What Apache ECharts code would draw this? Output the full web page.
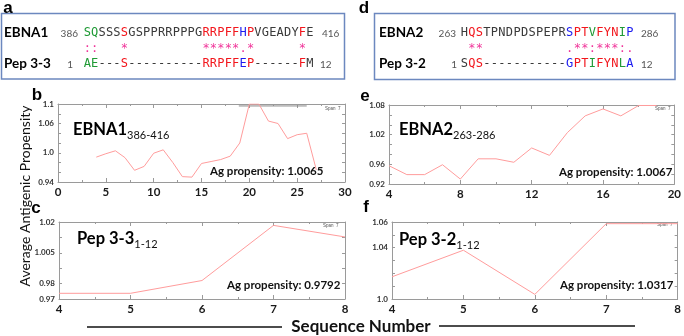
<!DOCTYPE html>
<html>
<head>
<meta charset="utf-8">
<script src="https://cdn.jsdelivr.net/npm/echarts@6.0.0/dist/echarts.min.js"></script>
<style>
html, body { margin: 0; padding: 0; background: #fff; }
#main { width: 684px; height: 336px; }
</style>
</head>
<body>
<div id="main"></div>
<script>
// alignment a: EBNA1 vs Pep 3-3 (k = grey, r = red, g = green, b = blue)
var ebna1Seq = 'SQSSSSGSPPRRPPPGRRPFFHPVGEADYFE';
var ebna1Col = 'ggkkkrkkkkkkkkkkrrrrrbrkkkkkkrk';
var pep33Seq = 'AE---S----------RRPFFEP------FM';
var pep33Col = 'ggkkkrkkkkkkkkkkrrrrrbrkkkkkkrk';
var consA    = '::   *          *****.*      * ';

// alignment d: EBNA2 vs Pep 3-2
var ebna2Seq = 'HQSTPNDPDSPEPRSPTVFYNIP';
var ebna2Col = 'krrkkkkkkkkkkkbrrgrrrgb';
var pep32Seq = 'SQS-----------GPTIFYNLA';
var pep32Col = 'krrkkkkkkkkkkkbrrgrrrgb';
var consD    = ' **           .**:***:.';

// propensity profiles
var xB = [4, 5, 6, 7, 8, 9, 10, 11, 12, 13, 14, 15, 16, 17, 18, 19, 20, 21, 22, 23, 24, 25, 26, 27];
var valB = [0.991, 0.998, 1.004, 0.990, 0.964, 0.972, 0.999, 1.006, 0.980, 0.951, 0.950, 0.978,
            0.982, 0.986, 0.993, 1.020, 1.100, 1.100, 1.065, 1.060, 1.029, 1.037, 1.040, 0.965];
var spanXB = [18.9, 26];
var spanYB = [1.096, 1.096];
var xE = [4, 5, 6, 7, 8, 9, 10, 11, 12, 13, 14, 15, 16, 17, 18, 19];
var valE = [0.957, 0.939, 0.939, 0.959, 0.930, 0.971, 0.971, 0.964, 0.993, 0.978, 1.024, 1.058,
            1.072, 1.058, 1.079, 1.079];
var xC = [4, 5, 6, 7, 8];
var valC = [0.9737, 0.9737, 0.982, 1.0178, 1.0103];
var xF = [4, 5, 6, 7, 8];
var valF = [1.0173, 1.038, 1.0036, 1.0587, 1.0587];

// tick labels as printed
var yTicksB = [0.94, 1.0, 1.06, 1.1];
var yTextB = ['0.94', '1.0', '1.06', '1.1'];
var yTicksE = [0.92, 0.96, 1.02, 1.08];
var yTextE = ['0.92', '0.96', '1.02', '1.08'];
var yTicksC = [0.97, 0.98, 1.0, 1.02];
var yTextC = ['0.97', '0.98', '1.005', '1.02'];
var yTicksF = [1.0, 1.04, 1.06];
var yTextF = ['1.0', '1.04', '1.06'];

var agB = 'Ag propensity: 1.0065';
var agE = 'Ag propensity: 1.0067';
var agC = 'Ag propensity: 0.9792';
var agF = 'Ag propensity: 1.0317';

var colors = { k: '#3a3a3a', r: '#f2161c', g: '#1f9a35', b: '#1b1bf0' };
var starColor = '#f0359a';
var lineColor = '#ff9c9c';
var axisColor = '#9a9a9a';
var sans = 'Lato, "Open Sans", sans-serif';
var mono = '"DejaVu Sans Mono", "Liberation Mono", monospace';

function pairs(xs, ys) {
	var out = [];
	for (var i = 0; i < xs.length; i++) {
		out.push([xs[i], ys[i]]);
	}
	return out;
}

function labeler(ticks, texts) {
	return function (v) {
		for (var i = 0; i < ticks.length; i++) {
			if (Math.abs(v - ticks[i]) < 1e-6) return texts[i];
		}
		return '';
	};
}

var xAxes = [];
var yAxes = [];
function addAxes(gi, xmin, xmax, xint, ymin, ymax, yint, ticks, texts) {
	['bottom', 'top'].forEach(function (pos) {
		xAxes.push({
			type: 'value', gridIndex: gi, position: pos, min: xmin, max: xmax, interval: xint,
			axisLine: { onZero: false, lineStyle: { color: axisColor, width: 1 } },
			axisTick: { inside: true, length: 4, lineStyle: { color: axisColor } },
			minorTick: { show: true, splitNumber: 2, length: 2, lineStyle: { color: axisColor } },
			splitLine: { show: false },
			axisLabel: {
				show: pos === 'bottom', color: '#1a1a1a', fontFamily: sans, fontWeight: 'bold',
				fontSize: 11.5, margin: 4, showMinLabel: true, showMaxLabel: true
			}
		});
	});
	['left', 'right'].forEach(function (pos) {
		yAxes.push({
			type: 'value', gridIndex: gi, position: pos, min: ymin, max: ymax, interval: yint,
			axisLine: { show: true, onZero: false, lineStyle: { color: axisColor, width: 1 } },
			axisTick: { show: true, inside: true, length: 3, lineStyle: { color: axisColor } },
			splitLine: { show: false },
			axisLabel: {
				show: pos === 'left', color: '#333', fontFamily: sans, fontWeight: 'bold',
				fontSize: 8, margin: 4, showMinLabel: true, showMaxLabel: true,
				formatter: labeler(ticks, texts)
			}
		});
	});
}

addAxes(0, 0, 30, 5, 0.94, 1.10, 0.02, yTicksB, yTextB);
addAxes(1, 4, 20, 4, 0.92, 1.08, 0.02, yTicksE, yTextE);
addAxes(2, 4, 8, 1, 0.97, 1.02, 0.01, yTicksC, yTextC);
addAxes(3, 4, 8, 1, 1.0, 1.06, 0.01, yTicksF, yTextF);

function profile(gi, data, color) {
	return {
		type: 'line', xAxisIndex: gi * 2, yAxisIndex: gi * 2, data: data,
		symbol: 'none', silent: true, animation: false,
		lineStyle: { color: color || lineColor, width: 1 }
	};
}

// graphic elements
var graphics = [];

function txt(x, y, text, style, extra) {
	var s = Object.assign({ text: text, fontFamily: sans, fill: '#111', verticalAlign: 'middle' }, style);
	graphics.push(Object.assign({ type: 'text', silent: true, x: x, y: y, style: s }, extra || {}));
}

function seqRow(seq, col, x0, pitch, y) {
	for (var i = 0; i < seq.length; i++) {
		if (seq[i] === ' ') continue;
		txt(x0 + i * pitch, y, seq[i], {
			fontFamily: mono, fontSize: 12, textAlign: 'center',
			fill: col ? colors[col[i]] : starColor
		});
	}
}

// boxes
graphics.push({ type: 'rect', silent: true, shape: { x: 1.5, y: 13.5, width: 343, height: 65.5 },
	style: { fill: 'none', stroke: '#6c88bf', lineWidth: 1.5 } });
graphics.push({ type: 'rect', silent: true, shape: { x: 374.5, y: 13.5, width: 300.5, height: 66 },
	style: { fill: 'none', stroke: '#6c88bf', lineWidth: 1.5 } });

// panel letters
var letterStyle = { fontFamily: 'Liberation Sans, Arial, sans-serif', fontWeight: 'bold', fontSize: 17, textAlign: 'center', fill: '#000' };
txt(8, 8, 'a', letterStyle);
txt(364, 8, 'd', letterStyle);
txt(37, 95, 'b', letterStyle);
txt(365, 96, 'e', letterStyle);
txt(36, 208, 'c', letterStyle);
txt(366, 207, 'f', letterStyle);

// alignment a
var nameStyle = { fontWeight: 'bold', fontSize: 13.5, fill: '#000' };
var numStyle = { fontSize: 10, fill: '#555', fontFamily: sans };
txt(4, 33, 'EBNA1', nameStyle);
txt(4, 64, 'Pep 3-3', nameStyle);
txt(78, 34, '386', Object.assign({ textAlign: 'right' }, numStyle));
txt(322, 34, '416', numStyle);
txt(73, 65, '1', Object.assign({ textAlign: 'right' }, numStyle));
txt(320, 65, '12', numStyle);
seqRow(ebna1Seq, ebna1Col, 87.3, 7.42, 33);
seqRow(consA, null, 87.3, 7.42, 49);
seqRow(pep33Seq, pep33Col, 87.3, 7.42, 64);

// alignment d
txt(379, 33, 'EBNA2', nameStyle);
txt(379, 64, 'Pep 3-2', nameStyle);
txt(456, 34, '263', Object.assign({ textAlign: 'right' }, numStyle));
txt(641, 34, '286', numStyle);
txt(457, 65, '1', Object.assign({ textAlign: 'right' }, numStyle));
txt(641, 65, '12', numStyle);
seqRow(ebna2Seq, ebna2Col, 464.3, 7.53, 33);
seqRow(consD, null, 464.3, 7.53, 49);
seqRow(pep32Seq, pep32Col, 464.3, 7.53, 64);

// plot titles with subscripts
function plotTitle(x, y, main, sub) {
	txt(x, y, '{m|' + main + '}{s|' + sub + '}', {
		rich: {
			m: { fontFamily: sans, fontWeight: 'bold', fontSize: 16.5, lineHeight: 22, fill: '#000' },
			s: { fontFamily: sans, fontSize: 11, lineHeight: 11, verticalAlign: 'bottom', fill: '#111' }
		}
	});
}
plotTitle(73, 130, 'EBNA1', '386-416');
plotTitle(399, 130, 'EBNA2', '263-286');
plotTitle(77, 239, 'Pep 3-3', '1-12');
plotTitle(399, 240, 'Pep 3-2', '1-12');

var agStyle = { fontWeight: 'bold', fontSize: 11.5, fill: '#111' };
txt(210, 171, agB, agStyle);
txt(559, 172, agE, agStyle);
txt(227, 285, agC, agStyle);
txt(560, 285, agF, agStyle);

var spanStyle = { fontSize: 4.5, fill: '#555', fontFamily: 'Liberation Sans, Arial, sans-serif' };
txt(325, 108.5, 'Span  7', spanStyle);
txt(655, 109, 'Span  7', spanStyle);
txt(323, 226, 'Span  7', spanStyle);
txt(657, 225, 'Span  7', spanStyle);

// shared axis titles
txt(25, 196, 'Average Antigenic Propensity', { fontSize: 14, textAlign: 'center', fill: '#111' }, { rotation: Math.PI / 2 });
txt(361, 327, 'Sequence Number', { fontWeight: 'bold', fontSize: 17, textAlign: 'center', fill: '#111' });
graphics.push({ type: 'line', silent: true, shape: { x1: 87, y1: 327, x2: 282, y2: 327 }, style: { stroke: '#111', lineWidth: 1.5 } });
graphics.push({ type: 'line', silent: true, shape: { x1: 439, y1: 326, x2: 635, y2: 326 }, style: { stroke: '#111', lineWidth: 1.5 } });

var chart = echarts.init(document.getElementById('main'), null, { renderer: 'canvas' });
chart.setOption({
	animation: false,
	backgroundColor: '#fff',
	grid: [
		{ left: 58, top: 104, width: 287, height: 78 },
		{ left: 389, top: 105, width: 288, height: 79 },
		{ left: 59, top: 222, width: 286, height: 77 },
		{ left: 392, top: 222, width: 287, height: 77 }
	],
	xAxis: xAxes,
	yAxis: yAxes,
	series: [
		profile(0, pairs(spanXB, spanYB), '#8a8a8a'),
		profile(0, pairs(xB, valB)),
		profile(1, pairs(xE, valE)),
		profile(2, pairs(xC, valC)),
		profile(3, pairs(xF, valF))
	],
	graphic: graphics
});
</script>
</body>
</html>
